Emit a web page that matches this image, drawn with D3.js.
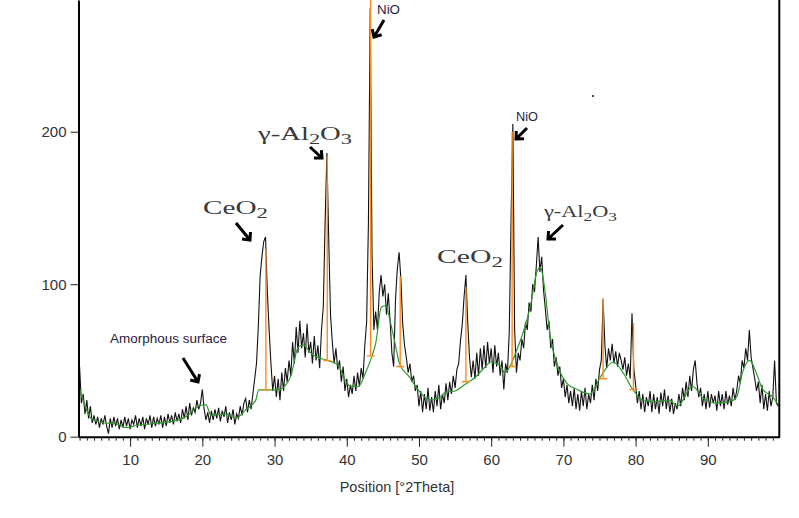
<!DOCTYPE html>
<html><head><meta charset="utf-8">
<script src="https://cdn.jsdelivr.net/npm/d3@7"></script>
<style>body{margin:0;background:#fff;} svg{display:block;}</style>
</head><body><svg id="c" width="799" height="518"></svg>
<script>
// ---- data ----
const scanStart = 3.0;   // °2Theta of first sample
const scanStep = 0.25;   // °2Theta between samples
const counts = [
 46,22,28,15, 24,12,20,9, 14,8,13,6, 12,8,14,7, 2,12,6,13,
 7,12,5,11, 6,13,7,12, 5,11,8,14, 6,12,7,13, 5,12,8,14,
 6,13,7,12, 8,14,6,13, 7,15,9,14, 8,16,10,15, 9,18,12,20,
 11,22,14,19, 16,24,18,22, 31,18,11,16, 9,17,11,18, 12,19,10,17,
 13,20,9,16, 11,18,8,15, 12,20,14,22, 25,16,24,18, 28,38,48,72,
 105,118,128,131, 95,70,48,30, 40,26,38,24, 42,30,45,36, 50,40,62,48,
 72,55,76,58, 68,52,74,55, 62,48,66,50, 60,45,70,85, 140,186,130,80,
 62,48,58,44, 50,36,46,30, 38,26,34,28, 40,30,42,33, 45,38,60,75,
 140,281,120,70, 82,70,95,106, 92,100,80,94, 76,55,46,90, 110,121,103,74,
 60,52,42,48, 36,40,30,34, 20,30,16,28, 18,32,17,26, 16,30,20,34,
 18,28,22,35, 24,36,28,40, 32,44,48,63, 74,92,106,75, 52,39,50,38,
 55,40,58,44, 60,45,62,48, 58,42,60,46, 55,40,50,31, 48,42,68,142,
 205,70,42,55, 50,64,58,75, 70,88,82,100, 95,112,131,108, 118,96,84,70,
 76,58,64,46, 52,40,46,32, 38,26,34,22, 30,20,32,18, 28,17,30,20,
 32,18,28,22, 34,24,38,30, 44,50,90,60, 45,58,50,61, 48,56,46,55,
 50,44,52,40, 48,38,81,45, 34,22,30,18, 28,16,26,20, 30,16,28,18,
 26,15,29,20, 31,18,27,16, 25,15,22,18, 28,20,32,24, 36,26,40,30,
 44,50,35,26, 32,20,28,18, 30,19,28,22, 27,17,30,20, 28,18,30,21,
 27,20,32,24, 30,40,35,50, 45,58,50,70, 52,45,38,30, 36,22,34,18,
 28,17,30,20, 26,50,22,20
];
const bgPos = [3.0,3.5,4.0,4.6,5.5,6.5,8,9.5,11,13,15.7,17.7,19.5,20.5,21.2,23.3,24.6,26,27.4,27.8,29,30.5,32.2,33.3,34,35,36,37.4,38.8,39.8,40.5,41.6,42.6,43.5,44,44.8,45.4,46,46.7,47.3,48.7,49.4,50.2,51.5,52.9,53.6,55,56.3,57.8,59.2,59.9,61.2,61.9,62.6,63.4,64.4,65.4,66.4,66.8,67.5,68.1,69.1,70.5,71.9,73.7,75.1,76.9,78.2,79.6,81,82.9,84.7,85.8,87.9,89.3,91.2,93,94,94.8,95.8,96.7,97.6,99,99.9];
const bgVal = [31,24,17,12,10,9,8.5,6,7.5,8.5,10,13,20,21,14,15,12,17.6,24,30.7,30.7,30.7,39,59,60,55,52,50,47,37,33,33,42,53,61,85,86,76,61,48,39,34,29,24,25.5,29,30,34,39,46,49,47,42,46,55,68,85,109,111,94,68,48,35,31,28,39,49,42.5,31,24,23,24,20,33,25.5,22,23,26,42,50,42,31,26,20];
const peakPos  = [28.8, 37.3, 43.3, 47.4, 56.5, 62.9, 75.5, 79.7];
const peakBase = [30.7, 50, 53, 46, 36, 46, 38, 31];
const peakTop  = [123, 184, 300, 105, 98, 200, 91, 74.5];
const xTicks = [10,20,30,40,50,60,70,80,90];
const yTicks = [0,100,200];
const xTitle = "Position [°2Theta]";

// ---- layout ----
const svg = d3.select("#c");
const x = d3.scaleLinear().domain([2.85, 99.9]).range([78.5, 779.3]);
const y = d3.scaleLinear().domain([0, 286.4]).range([436.7, 0]);
const plotL = 78.5, plotR = 779.3, plotB = 436.7;

svg.append("defs").append("clipPath").attr("id","clip")
  .append("rect").attr("x",plotL).attr("y",0).attr("width",plotR-plotL).attr("height",plotB);

const g = svg.append("g").attr("clip-path","url(#clip)");

const pts = counts.map((c,i)=>[scanStart + i*scanStep, c]);
g.append("path").datum(pts)
  .attr("fill","none").attr("stroke","#111").attr("stroke-width",1.1)
  .attr("d", d3.line().x(d=>x(d[0])).y(d=>y(d[1])));

const bg = bgPos.map((p,i)=>[p,bgVal[i]]);
g.append("path").datum(bg)
  .attr("fill","none").attr("stroke","#2e9a2e").attr("stroke-width",1.2)
  .attr("d", d3.line().curve(d3.curveMonotoneX).x(d=>x(d[0])).y(d=>y(d[1])));

const sticks = peakPos.map((p,i)=>({p, b:peakBase[i], t:peakTop[i]}));
g.selectAll(".stick").data(sticks).join("line")
  .attr("stroke","#ff8a1c").attr("stroke-width",1.4)
  .attr("x1",d=>x(d.p)).attr("x2",d=>x(d.p)).attr("y1",d=>y(d.b)).attr("y2",d=>y(d.t));
g.selectAll(".base").data(sticks).join("line")
  .attr("stroke","#ff8a1c").attr("stroke-width",1.4)
  .attr("x1",d=>x(d.p)-4).attr("x2",d=>x(d.p)+4).attr("y1",d=>y(d.b)).attr("y2",d=>y(d.b));

// axes
const minor = d3.range(3, 100, 1);
const xMinor = svg.append("g").attr("transform",`translate(0,${plotB})`)
  .call(d3.axisBottom(x).tickValues(minor).tickSize(4).tickSizeOuter(0).tickFormat(""));
xMinor.select(".domain").attr("stroke","#000").attr("stroke-width",2);
xMinor.selectAll(".tick line").attr("stroke","#222");
const xMajor = svg.append("g").attr("transform",`translate(0,${plotB})`)
  .call(d3.axisBottom(x).tickValues(xTicks).tickSize(10).tickSizeOuter(0).tickPadding(8));
xMajor.select(".domain").remove();
xMajor.selectAll(".tick line").attr("stroke","#222");
xMajor.selectAll(".tick text").attr("font-family","Liberation Sans, Arial, sans-serif")
  .attr("font-size",15).attr("fill","#333");

const yAx = svg.append("g").attr("transform",`translate(${plotL},0)`)
  .call(d3.axisLeft(y).tickValues(yTicks).tickSize(8).tickSizeOuter(0).tickPadding(4));
yAx.select(".domain").attr("stroke","#000").attr("stroke-width",2);
yAx.selectAll(".tick line").attr("stroke","#222");
yAx.selectAll(".tick text").attr("font-family","Liberation Sans, Arial, sans-serif")
  .attr("font-size",15).attr("fill","#333");

svg.append("line").attr("x1",plotR).attr("x2",plotR).attr("y1",0).attr("y2",plotB+1)
  .attr("stroke","#000").attr("stroke-width",2);

svg.append("text").attr("x",397).attr("y",492).attr("text-anchor","middle")
  .attr("font-family","Liberation Sans, Arial, sans-serif").attr("font-size",14.5).attr("fill","#333")
  .text(xTitle);

// annotations
function arrow(x1,y1,x2,y2){
  const a = Math.atan2(y2-y1,x2-x1), L=8, s=0.75;
  const p = `M${x1},${y1}L${x2},${y2}M${x2-L*Math.cos(a-s)},${y2-L*Math.sin(a-s)}L${x2},${y2}L${x2-L*Math.cos(a+s)},${y2-L*Math.sin(a+s)}`;
  svg.append("path").attr("d",p).attr("fill","none").attr("stroke","#000")
    .attr("stroke-width",3).attr("stroke-linejoin","miter").attr("stroke-linecap","butt");
}
arrow(384,20,374,37);
arrow(310,147,322,158);
arrow(527,128,516,139);
arrow(563,225,548,239);
arrow(236,223,250,240);
arrow(183,358,198,382);

function sansLabel(t,x0,y0,fs,w){
  const e = svg.append("text").attr("x",x0).attr("y",y0)
    .attr("font-family","Liberation Sans, Arial, sans-serif").attr("font-size",fs).attr("fill","#2a2040").text(t);
  if(w) e.attr("textLength",w).attr("lengthAdjust","spacingAndGlyphs");
}
sansLabel("NiO",377,14,12.5,23);
sansLabel("NiO",516,121,12.5,22);
sansLabel("Amorphous surface",110,343,12,117);

function chemLabel(parts,x0,y0,fs,w){
  const t = svg.append("text").attr("x",x0).attr("y",y0)
    .attr("font-family","Liberation Serif, 'DejaVu Serif', serif").attr("font-size",fs).attr("fill","#3a3a3a");
  parts.forEach(p=>{
    const ts = t.append("tspan").text(p[0]);
    if(p[1]) ts.attr("font-size",fs*0.78).attr("dy",fs*0.22);
    else ts.attr("dy", p[2]||0);
  });
  t.attr("textLength",w).attr("lengthAdjust","spacingAndGlyphs");
}
chemLabel([["γ-Al"],["2",1],["O",0,-18*0.22],["3",1]],258,140,18,94);
chemLabel([["CeO"],["2",1]],203,214,18,65);
chemLabel([["CeO"],["2",1]],437,263,18,66);
chemLabel([["γ-Al"],["2",1],["O",0,-16*0.22],["3",1]],544,217,16,73);

svg.append("circle").attr("cx",593).attr("cy",96).attr("r",1.1).attr("fill","#222");
</script></body></html>
